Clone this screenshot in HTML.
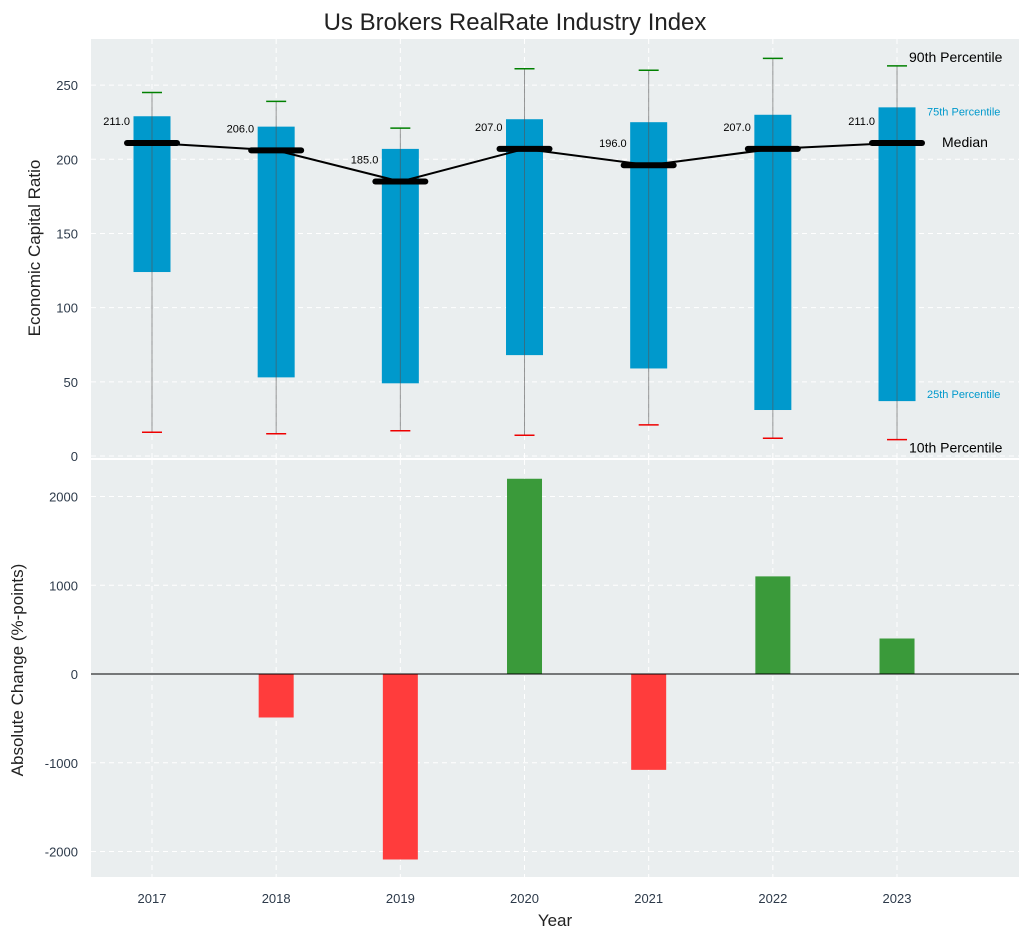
<!DOCTYPE html>
<html><head><meta charset="utf-8"><style>
body{margin:0;background:#fff;font-family:"Liberation Sans",sans-serif}
svg text{font-family:"Liberation Sans",sans-serif}
</style></head><body>
<svg id="c" width="1030" height="940"></svg>
<script>
const years=[2017,2018,2019,2020,2021,2022,2023];
const q25=[124,53,49,68,59,31,37];
const q75=[229,222,207,227,225,230,235];
const p10=[16,15,17,14,21,12,11];
const p90=[245,239,221,261,260,268,263];
const median=[211,206,185,207,196,207,211];
const change=[0,-490,-2090,2200,-1080,1100,400];
const topTicks=[0,50,100,150,200,250];
const botTicks=[-2000,-1000,0,1000,2000];
const NS='http://www.w3.org/2000/svg';
const svg=document.getElementById('c');
function el(t,a,txt){const e=document.createElementNS(NS,t);for(const k in a)e.setAttribute(k,a[k]);if(txt!==undefined)e.textContent=txt;svg.appendChild(e);return e;}
const L=91,R=1019;
const x=v=>152+(v-2017)*124.17;
const yT=v=>456-v*1.4836;
const yB=v=>674-v*0.08875;
let p=el('rect',{x:L,y:39,width:R-L,height:419,fill:'#eaeeef'});

p=el('rect',{x:L,y:460,width:R-L,height:417,fill:'#eaeeef'});

years.forEach(yr=>{el('line',{x1:x(yr),x2:x(yr),y1:39,y2:458,stroke:'#fff','stroke-dasharray':'5,4','stroke-width':1});el('line',{x1:x(yr),x2:x(yr),y1:460,y2:877,stroke:'#fff','stroke-dasharray':'5,4','stroke-width':1});
 const t=el('text',{x:x(yr),y:903,'text-anchor':'middle','font-size':13,fill:'#2d3a4a'},yr);
 });
topTicks.forEach(v=>{el('line',{x1:L,x2:R,y1:yT(v),y2:yT(v),stroke:'#fff','stroke-dasharray':'5,4'});
 const t=el('text',{x:78,y:yT(v)+5,'text-anchor':'end','font-size':13,fill:'#2d3a4a'},v);
 });
botTicks.forEach(v=>{el('line',{x1:L,x2:R,y1:yB(v),y2:yB(v),stroke:'#fff','stroke-dasharray':'5,4'});
 const t=el('text',{x:78,y:yB(v)+5,'text-anchor':'end','font-size':13,fill:'#2d3a4a'},v);
 });
const hw=18.5;
years.forEach((yr,i)=>{
 const cx=x(yr);
 const b=el('rect',{x:cx-hw,y:yT(q75[i]),width:2*hw,height:yT(q25[i])-yT(q75[i]),fill:'#0099cc'});
 
 el('line',{x1:cx,x2:cx,y1:yT(p90[i]),y2:yT(p10[i]),stroke:'#555','stroke-opacity':0.6,'stroke-width':1});
 const c1=el('line',{x1:cx-10,x2:cx+10,y1:yT(p90[i]),y2:yT(p90[i]),stroke:'#008000','stroke-width':1.5});
 
 const c2=el('line',{x1:cx-10,x2:cx+10,y1:yT(p10[i]),y2:yT(p10[i]),stroke:'#e00','stroke-width':1.5});
 
});
const pts=years.map((yr,i)=>x(yr)+','+yT(median[i])).join(' ');
const ml=el('polyline',{points:pts,fill:'none',stroke:'#000','stroke-width':2});

years.forEach((yr,i)=>{const cx=x(yr);
 const m=el('line',{x1:cx-25,x2:cx+25,y1:yT(median[i]),y2:yT(median[i]),stroke:'#000','stroke-width':6,'stroke-linecap':'round'});
 
 const t=el('text',{x:cx-22,y:yT(median[i])-18,'text-anchor':'end','font-size':11,fill:'#000'},median[i].toFixed(1));
 
});
const lx=x(2023);
[['90th Percentile',lx+12,yT(p90[6])-4,14,'#000'],['75th Percentile',lx+30,yT(q75[6])+8,11,'#0099cc'],['Median',lx+45,yT(median[6])+4,14,'#000'],['25th Percentile',lx+30,yT(q25[6])-3,11,'#0099cc'],['10th Percentile',lx+12,yT(p10[6])+13,14,'#000']].forEach(a=>{
 const t=el('text',{x:a[1],y:a[2],'font-size':a[3],fill:a[4]},a[0]);
 });
years.forEach((yr,i)=>{const v=change[i];if(v===0)return;
 const r=el('rect',{x:x(yr)-17.5,y:Math.min(yB(v),yB(0)),width:35,height:Math.abs(yB(v)-yB(0)),fill:v>0?'#3a9a3a':'#ff3c3c'});
 });
el('line',{x1:L,x2:R,y1:yB(0),y2:yB(0),stroke:'#000','stroke-width':1});
let t=el('text',{x:515,y:30,'text-anchor':'middle','font-size':24,fill:'#222'},'Us Brokers RealRate Industry Index');

t=el('text',{x:555,y:926,'text-anchor':'middle','font-size':17,fill:'#222'},'Year');

t=el('text',{x:0,y:0,'text-anchor':'middle','font-size':17,fill:'#222',transform:'translate(40,248) rotate(-90)'},'Economic Capital Ratio');

t=el('text',{x:0,y:0,'text-anchor':'middle','font-size':17,fill:'#222',transform:'translate(23,670) rotate(-90)'},'Absolute Change (%-points)');

</script></body></html>
